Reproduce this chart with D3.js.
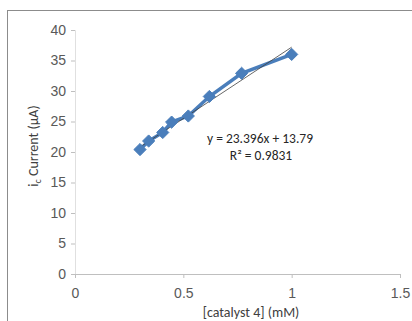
<!DOCTYPE html>
<html><head><meta charset="utf-8">
<script src="https://cdn.jsdelivr.net/npm/d3@7"></script>
<style>body{margin:0;background:#fff}svg{display:block;font-family:Calibri,Carlito,"Liberation Sans",Arial,sans-serif}</style>
</head><body><svg id="c" width="412" height="321"></svg>
<script>
const xVals = [0.30, 0.34, 0.405, 0.446, 0.523, 0.62, 0.769, 1.0];
const yVals = [20.4, 21.8, 23.2, 24.9, 25.9, 29.1, 32.9, 36.0];
const xTicks = [0, 0.5, 1, 1.5];
const yTicks = [0, 5, 10, 15, 20, 25, 30, 35, 40];
const slope = 23.396, intercept = 13.79;
const eqText = "y = 23.396x + 13.79";
const r2Text = "R² = 0.9831";

const svg = d3.select("#c");
svg.append("rect").attr("x",7.5).attr("y",10.5).attr("width",420).attr("height",330)
  .attr("fill","#fff").attr("stroke","#8c8c8c").attr("stroke-width",1);

const x = d3.scaleLinear().domain([0,1.5]).range([75,400]);
const y = d3.scaleLinear().domain([0,40]).range([274,30]);

const ya = svg.append("g").attr("transform","translate(75,0)")
  .call(d3.axisLeft(y).tickValues(yTicks).tickSize(4).tickPadding(5));
ya.select(".domain").attr("stroke","#e0e0e0");
ya.selectAll(".tick line").attr("stroke","#bfbfbf");
ya.selectAll("text").attr("fill","#595959").style("font-size","14px");

const xa = svg.append("g").attr("transform","translate(0,274)")
  .call(d3.axisBottom(x).tickValues(xTicks).tickFormat(d3.format("")).tickSize(4).tickPadding(10));
xa.select(".domain").attr("stroke","#bfbfbf");
xa.selectAll(".tick line").attr("stroke","#bfbfbf");
xa.selectAll("text").attr("fill","#595959").style("font-size","14px");

const pts = xVals.map((v,i)=>[v,yVals[i]]);
svg.append("path").datum(pts)
  .attr("d", d3.line().x(d=>x(d[0])).y(d=>y(d[1])))
  .attr("fill","none").attr("stroke","#4a7ebb").attr("stroke-width",3.5);

const tx = [d3.min(xVals), d3.max(xVals)];
svg.append("line")
  .attr("x1",x(tx[0])).attr("y1",y(slope*tx[0]+intercept))
  .attr("x2",x(tx[1])).attr("y2",y(slope*tx[1]+intercept))
  .attr("stroke","#404040").attr("stroke-width",0.8);

svg.selectAll(".m").data(pts).enter().append("path")
  .attr("transform",d=>`translate(${x(d[0])},${y(d[1])})`)
  .attr("d", d3.symbol(d3.symbolDiamond2, 95))
  .attr("fill","#4a7ebb").attr("stroke","#4a7ebb").attr("stroke-width",1);

svg.append("text").attr("x",260).attr("y",143).attr("text-anchor","middle")
  .attr("fill","#262626").style("font-size","13.5px").text(eqText);
svg.append("text").attr("x",261).attr("y",160).attr("text-anchor","middle")
  .attr("fill","#262626").style("font-size","13.5px").text(r2Text);

svg.append("text").attr("x",251).attr("y",317).attr("text-anchor","middle")
  .attr("fill","#404040").style("font-size","14px").text("[catalyst 4] (mM)");
const yt = svg.append("text").attr("transform","translate(38,146) rotate(-90)")
  .attr("text-anchor","middle").attr("fill","#404040").style("font-size","14px");
yt.append("tspan").text("i");
yt.append("tspan").attr("dy",3).style("font-size","10px").text("c");
yt.append("tspan").attr("dy",-3).text(" Current (μA)");
</script></body></html>
